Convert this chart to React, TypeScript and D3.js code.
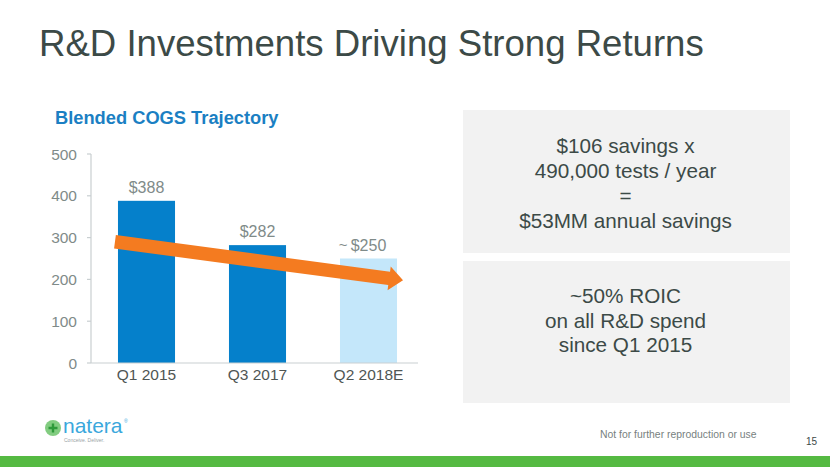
import React from "react";
import * as d3 from "d3";

const categories = ["Q1 2015", "Q3 2017", "Q2 2018E"];
const values = [388, 282, 250];
const valuePrefixes = ["", "", "~"];
const estimated = [false, false, true];
const yTicks = [0, 100, 200, 300, 400, 500];
const trendValues = [290, 198];
const box1Lines = ["$106 savings x", "490,000 tests / year", "=", "$53MM annual savings"];
const box2Lines = ["~50% ROIC", "on all R&D spend", "since Q1 2015"];

const W = 830;
const H = 467;
const FONT = "'Liberation Sans', Arial, Helvetica, sans-serif";

export default function App() {
  const x = d3.scaleBand<string>().domain(categories).range([91, 424]).paddingInner(0.486).paddingOuter(0.243);
  const y = d3.scaleLinear().domain([0, 500]).range([363, 154]);

  // trend arrow
  const x0 = (x(categories[0]) as number) - 3;
  const x1 = (x(categories[2]) as number) + x.bandwidth() + 6;
  const ya = y(trendValues[0]);
  const yb = y(trendValues[1]);
  const ang = Math.atan2(yb - ya, x1 - x0);
  const thick = 13.5;
  const headLen = 14;
  const headHalf = 12;
  const ux = Math.cos(ang), uy = Math.sin(ang);
  const nx = -uy, ny = ux;
  const sx = x1 - ux * headLen, sy = yb - uy * headLen;
  const pts: [number, number][] = [
    [x0 + nx * thick / 2, ya + ny * thick / 2],
    [sx + nx * thick / 2, sy + ny * thick / 2],
    [sx + nx * headHalf, sy + ny * headHalf],
    [x1, yb],
    [sx - nx * headHalf, sy - ny * headHalf],
    [sx - nx * thick / 2, sy - ny * thick / 2],
    [x0 - nx * thick / 2, ya - ny * thick / 2],
  ];
  const arrowPath = d3.line()(pts) + "Z";

  return (
    <div style={{ position: "absolute", left: 0, top: 0 }}>
      <svg width={W} height={H} viewBox={`0 0 ${W} ${H}`} style={{ display: "block", background: "#ffffff" }} fontFamily={FONT}>
        <rect x={0} y={0} width={W} height={H} fill="#ffffff" />
        {/* Title */}
        <text x={39} y={56} fontSize={36.6} fill="#3c4a47">R&amp;D Investments Driving Strong Returns</text>

        {/* Chart title */}
        <text x={55} y={123.5} fontSize={18.3} fontWeight="bold" fill="#1b7fc3">Blended COGS Trajectory</text>

        {/* Y axis */}
        <line x1={91} x2={91} y1={y(500)} y2={y(0)} stroke="#c9cfd1" strokeWidth={1.2} />
        {yTicks.map((t) => (
          <g key={t}>
            <line x1={87} x2={91} y1={y(t)} y2={y(t)} stroke="#c9cfd1" strokeWidth={1.2} />
            <text x={77} y={y(t) + 5.5} fontSize={15.5} textAnchor="end" fill="#7f8b89">{t}</text>
          </g>
        ))}

        {/* Bars */}
        {categories.map((c, i) => (
          <rect key={c} x={x(c)} y={y(values[i])} width={x.bandwidth()} height={y(0) - y(values[i])}
            fill={estimated[i] ? "#c4e7fa" : "#0580cb"} />
        ))}

        {/* X axis */}
        <line x1={91} x2={418} y1={y(0)} y2={y(0)} stroke="#c9cfd1" strokeWidth={1.2} />
        {categories.map((c) => (
          <text key={c} x={(x(c) as number) + x.bandwidth() / 2} y={380} fontSize={15.5} textAnchor="middle" fill="#4f5654">{c}</text>
        ))}

        {/* Value labels */}
        {categories.map((c, i) => {
          const cx = (x(c) as number) + x.bandwidth() / 2;
          const ty = y(values[i]) - 8;
          return (
            <g key={c}>
              <text x={cx} y={ty} fontSize={16} textAnchor="middle" fill="#7f8b89">${values[i]}</text>
              {valuePrefixes[i] && (
                <text x={cx - 21} y={ty - 1} fontSize={15} textAnchor="end" fill="#7f8b89">{valuePrefixes[i]}</text>
              )}
            </g>
          );
        })}

        {/* Trend arrow */}
        <path d={arrowPath} fill="#f47b20" />

        {/* Right boxes */}
        <rect x={463} y={110} width={327} height={143} fill="#f2f2f2" />
        <rect x={463} y={261} width={327} height={142} fill="#f2f2f2" />
        {box1Lines.map((l, i) => (
          <text key={i} x={625.5} y={153 + i * 25} fontSize={20.7} textAnchor="middle" fill="#3c4a47">{l}</text>
        ))}
        {box2Lines.map((l, i) => (
          <text key={i} x={625.5} y={303 + i * 24.5} fontSize={20.7} textAnchor="middle" fill="#3c4a47">{l}</text>
        ))}

        {/* Footer */}
        <circle cx={53} cy={428} r={8} fill="#6cc36a" opacity={0.85} />
        <path d="M53 423.5 V432.5 M48.5 428 H57.5" stroke="#2e9a3a" strokeWidth={2.4} />
        <text x={63} y={433} fontSize={21} fill="#3aa7dc">natera</text>
        <text x={124} y={423} fontSize={5} fill="#3aa7dc">®</text>
        <text x={64} y={442} fontSize={5} fill="#9aa3a6">Conceive. Deliver.</text>
        <text x={600} y={438} fontSize={10.4} fill="#777f80">Not for further reproduction or use</text>
        <text x={806} y={445} fontSize={10} fill="#3c4a47">15</text>
        <rect x={0} y={456} width={W} height={11} fill="#55ba42" />
      </svg>
    </div>
  );
}
